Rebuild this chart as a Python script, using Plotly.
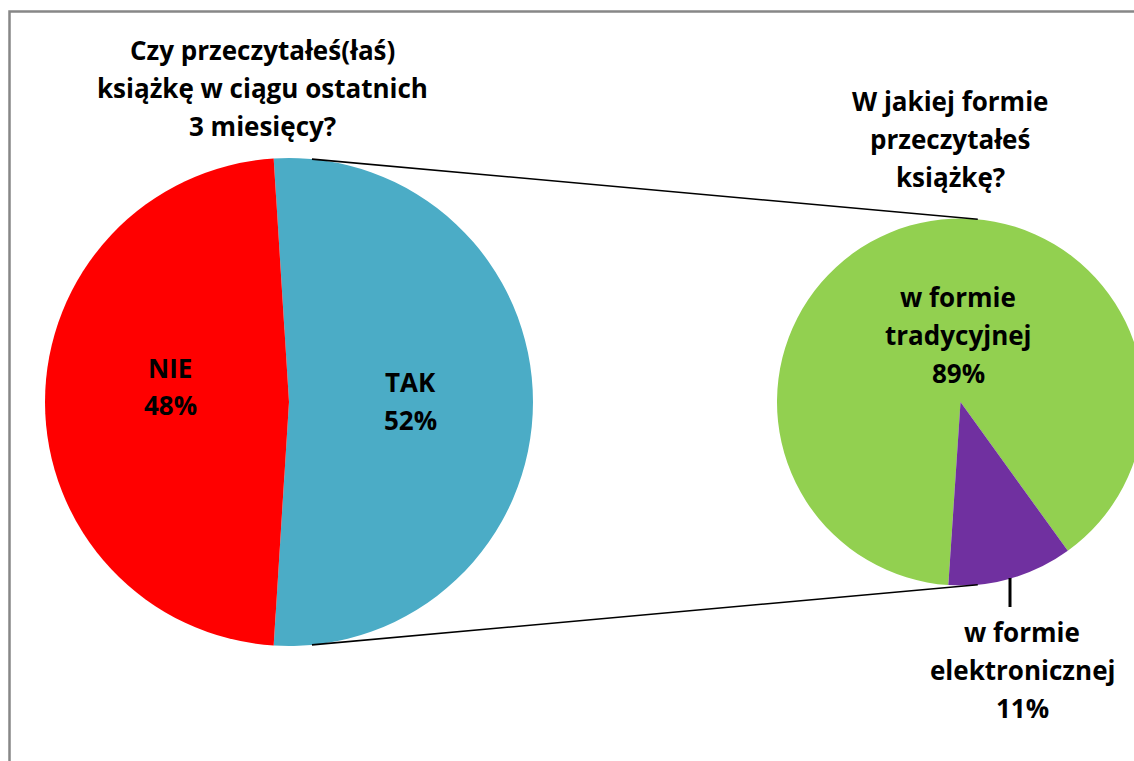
import math
import plotly.graph_objects as go

# dane
main_labels = ["TAK", "NIE"]
main_values = [52, 48]
main_colors = ["#4BACC6", "#FF0000"]

sub_labels = ["w formie tradycyjnej", "w formie elektronicznej"]
sub_values = [89, 11]
sub_colors = ["#92D050", "#7030A0"]

title_left = ["Czy przeczytałeś(łaś)", "książkę w ciągu ostatnich", "3 miesięcy?"]
title_right = ["W jakiej formie", "przeczytałeś", "książkę?"]

# figura szersza niż okno - prawy wykres ma być przycięty
W, H = 1144, 761
FONT = "Open Sans"

# geometria (piksele)
left_cx, left_cy, left_r = 289, 402, 244
right_x0 = 777
right_r = (W - right_x0) / 2
right_cx, right_cy = right_x0 + right_r, 402


def px(x):
    return x / W


def py(y):
    return 1 - y / H


fig = go.Figure()

fig.add_trace(go.Pie(
    labels=main_labels, values=main_values, sort=False, direction="clockwise",
    rotation=-3.6, marker=dict(colors=main_colors, line=dict(width=0)),
    textinfo="none", hoverinfo="label+percent", showlegend=False,
    domain=dict(x=[px(left_cx - left_r), px(left_cx + left_r)],
                y=[py(left_cy + left_r), py(left_cy - left_r)]),
))

fig.add_trace(go.Pie(
    labels=sub_labels, values=sub_values, sort=False, direction="clockwise",
    rotation=183.8, marker=dict(colors=sub_colors, line=dict(width=0)),
    textinfo="none", hoverinfo="label+percent", showlegend=False,
    domain=dict(x=[px(right_x0), 1],
                y=[py(left_cy + left_r), py(left_cy - left_r)]),
))

ann = []


def lines(texts, x, y0, step, size=26):
    for i, t in enumerate(texts):
        ann.append(dict(text="<b>%s</b>" % t, x=px(x), y=py(y0 + i * step),
                        xref="paper", yref="paper", showarrow=False,
                        xanchor="center", yanchor="middle",
                        font=dict(family=FONT, size=size, color="black")))


lines(title_left, 262, 50, 38)
lines(title_right, 950, 101, 38)

tot = sum(main_values)
lines(["NIE", "%d%%" % round(100 * main_values[1] / tot)], 170, 368, 37)
lines(["TAK", "%d%%" % round(100 * main_values[0] / tot)], 410, 382, 38)
stot = sum(sub_values)
lines(["w formie", "tradycyjnej", "%d%%" % round(100 * sub_values[0] / stot)], 958, 297, 38)
lines(["w formie", "elektronicznej", "%d%%" % round(100 * sub_values[1] / stot)], 1022, 632, 38)

# linie łączące
a = math.radians(5.4)
shapes = []
for sgn in (1, -1):
    x0 = left_cx + left_r * math.sin(a)
    y0 = left_cy - sgn * left_r * math.cos(a)
    x1 = right_cx + right_r * math.sin(a)
    y1 = right_cy - sgn * right_r * math.cos(a)
    shapes.append(dict(type="line", xref="paper", yref="paper",
                       x0=px(x0), y0=py(y0), x1=px(x1), y1=py(y1),
                       line=dict(color="black", width=1.6)))

# linia odniesienia etykiety
shapes.append(dict(type="line", xref="paper", yref="paper",
                   x0=px(1010), y0=py(578), x1=px(1010), y1=py(607),
                   line=dict(color="black", width=3)))

# ramka
shapes.append(dict(type="rect", xref="paper", yref="paper",
                   x0=px(9.5), y0=-0.1, x1=1.1, y1=py(11.5),
                   line=dict(color="#878787", width=2.5), fillcolor="rgba(0,0,0,0)"))

fig.update_layout(
    width=W, height=H, margin=dict(l=0, r=0, t=0, b=0),
    paper_bgcolor="white", plot_bgcolor="white",
    annotations=ann, shapes=shapes,
)

fig.write_html(
    "out.html",
    config={"displayModeBar": False},
    post_script="document.body.style.margin='0';document.body.style.overflow='hidden';",
)
